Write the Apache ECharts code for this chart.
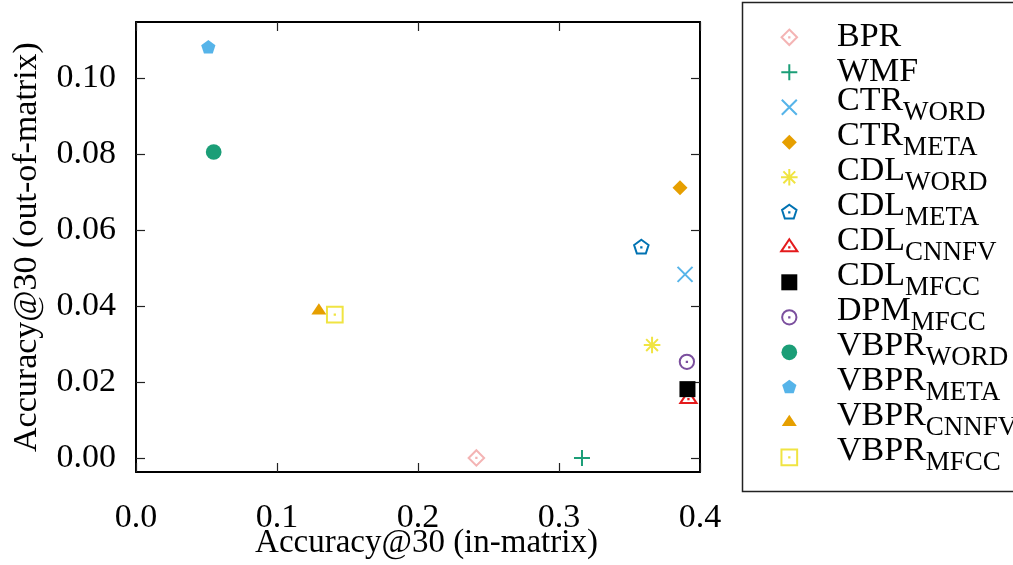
<!DOCTYPE html>
<html><head><meta charset="utf-8">
<script src="https://cdn.jsdelivr.net/npm/echarts@6/dist/echarts.min.js"></script>
<style>html,body{margin:0;padding:0;background:#fff}#c{width:1013px;height:565px}</style>
</head><body><div id="c"></div>
<script>
// ---- data ----
const methods  = ['BPR','WMF','CTR','CTR','CDL','CDL','CDL','CDL','DPM','VBPR','VBPR','VBPR','VBPR'];
const variants = ['','','WORD','META','WORD','META','CNNFV','MFCC','MFCC','WORD','META','CNNFV','MFCC'];
const inMatrix  = [0.2414,0.3163,0.3894,0.3858,0.3660,0.3584,0.3918,0.3911,0.3907,0.0551,0.0513,0.1297,0.1410];
const outMatrix = [0.0000,0.0000,0.0483,0.0711,0.0297,0.0554,0.0155,0.0181,0.0253,0.0805,0.1080,0.0387,0.0377];
const xTicks = [0, 0.1, 0.2, 0.3, 0.4];
const yTicks = [0, 0.02, 0.04, 0.06, 0.08, 0.10];
const xTitle = 'Accuracy@30 (in-matrix)';
const yTitle = 'Accuracy@30 (out-of-matrix)';

// ---- styles ----
const FONT = 'Liberation Serif';
const colors = ['#f4b4b4','#1b9e77','#56b4e9','#e69f00','#f0e442','#0072b2','#e41a1c','#000000','#7b4f9e','#1b9e77','#56b4e9','#e69f00','#f0e442'];
const B = 'M0 0M20 20';
const DOT = 'M9.85 9.85h0.3v0.3h-0.3Z';
function poly(pts){ return 'M' + pts.map(p => p[0].toFixed(2) + ' ' + p[1].toFixed(2)).join('L') + 'Z'; }
function diamond(d){ return poly([[10,10-d],[10+d,10],[10,10+d],[10-d,10]]); }
function square(h){ return poly([[10-h,10-h],[10+h,10-h],[10+h,10+h],[10-h,10+h]]); }
function pent(r){ const p=[]; for(let k=0;k<5;k++){const a=(-90+72*k)*Math.PI/180; p.push([10+r*Math.cos(a),10+r*Math.sin(a)]);} return poly(p); }
function tri(a){ return poly([[10,10-a],[10+a,10+a/2],[10-a,10+a/2]]); }
function circ(r){ return 'M'+(10+r)+' 10A'+r+' '+r+' 0 1 1 '+(10-r)+' 10A'+r+' '+r+' 0 1 1 '+(10+r)+' 10Z'; }
const shapes = [
  {d: diamond(7.75)+DOT, fill:false},
  {d: 'M10 2V18M2 10H18', fill:false},
  {d: 'M2.5 2.5L17.5 17.5M17.5 2.5L2.5 17.5', fill:false},
  {d: diamond(7.5), fill:true},
  {d: 'M10 1.7V18.3M1.7 10H18.3M4.1 4.1L15.9 15.9M15.9 4.1L4.1 15.9', fill:false},
  {d: pent(7.6)+DOT, fill:false},
  {d: tri(8.1)+DOT, fill:false},
  {d: square(8), fill:true},
  {d: circ(7.15)+DOT, fill:false},
  {d: circ(7.85), fill:true},
  {d: pent(7.5), fill:true},
  {d: tri(7.5), fill:true},
  {d: square(7.85)+DOT, fill:false}
];
const names = methods.map((m,i) => variants[i] ? m + '_' + variants[i] : m);

const chart = echarts.init(document.getElementById('c'), null, {renderer:'canvas'});
const axisLine = {show:true, onZero:false, lineStyle:{color:'#000', width:2}};
const tick = {show:true, inside:true, length:9, lineStyle:{color:'#222', width:1.2}};
const yMin = -0.0037, yMax = 0.1147;

chart.setOption({
  animation:false,
  backgroundColor:'#fff',
  grid:{left:136, top:22, width:564, height:450, containLabel:false, outerBoundsMode:'none'},
  graphic:[{type:'rect', silent:true, shape:{x:742.5, y:2.5, width:320, height:489},
            style:{fill:'none', stroke:'#222', lineWidth:1.5}}],
  xAxis:[
    {type:'value', min:xTicks[0], max:xTicks[xTicks.length-1], interval:0.1, position:'bottom',
     name:xTitle, nameLocation:'middle', nameGap:55, nameMoveOverlap:false,
     nameTextStyle:{fontFamily:FONT, fontSize:33, color:'#000', padding:[0,0,0,17]},
     axisLine:axisLine, axisTick:tick, splitLine:{show:false},
     axisLabel:{fontFamily:FONT, fontSize:34, color:'#000', margin:29, formatter:v => v.toFixed(1)}},
    {type:'value', min:xTicks[0], max:xTicks[xTicks.length-1], interval:0.1, position:'top',
     axisLine:axisLine, axisTick:tick, splitLine:{show:false}, axisLabel:{show:false}}
  ],
  yAxis:[
    {type:'value', min:yMin, max:yMax, position:'left',
     name:yTitle, nameLocation:'middle', nameGap:92, nameMoveOverlap:false,
     nameTextStyle:{fontFamily:FONT, fontSize:34, color:'#000'},
     axisLine:axisLine, axisTick:Object.assign({customValues:yTicks}, tick), splitLine:{show:false},
     axisLabel:{customValues:yTicks, fontFamily:FONT, fontSize:34, color:'#000', margin:20, formatter:v => v.toFixed(2)}},
    {type:'value', min:yMin, max:yMax, position:'right',
     axisLine:axisLine, axisTick:Object.assign({customValues:yTicks}, tick), splitLine:{show:false},
     axisLabel:{show:false}}
  ],
  legend:{
    orient:'vertical', left:778.3, top:14,
    padding:0,
    itemWidth:85.4, itemHeight:20, itemGap:-11.6,
    symbolKeepAspect:true, selectedMode:false,
    data:names,
    formatter:function(name){
      const i = names.indexOf(name);
      return variants[i] ? '{m|' + methods[i] + '}{s|' + variants[i] + '}' : '{p|' + methods[i] + '}';
    },
    textStyle:{fontFamily:FONT, color:'#000', fontSize:34,
      rich:{
        p:{fontFamily:FONT, fontSize:34, lineHeight:34, padding:[6.3,0,6.3,0], color:'#000'},
        m:{fontFamily:FONT, fontSize:34, lineHeight:34, padding:[0,0,12.6,0], color:'#000'},
        s:{fontFamily:FONT, fontSize:27, lineHeight:27, padding:[12,0,0,0], color:'#000'}
      }}
  },
  series: names.map((n,i) => ({
    type:'scatter', name:n, xAxisIndex:0, yAxisIndex:0,
    data:[[inMatrix[i], outMatrix[i]]],
    symbol:'path://' + B + shapes[i].d, symbolSize:20,
    itemStyle: shapes[i].fill ? {color:colors[i], borderWidth:0, opacity:1}
                              : {color:'rgba(0,0,0,0)', borderColor:colors[i], borderWidth:2, opacity:1},
    emphasis:{disabled:true}
  }))
});
</script></body></html>
